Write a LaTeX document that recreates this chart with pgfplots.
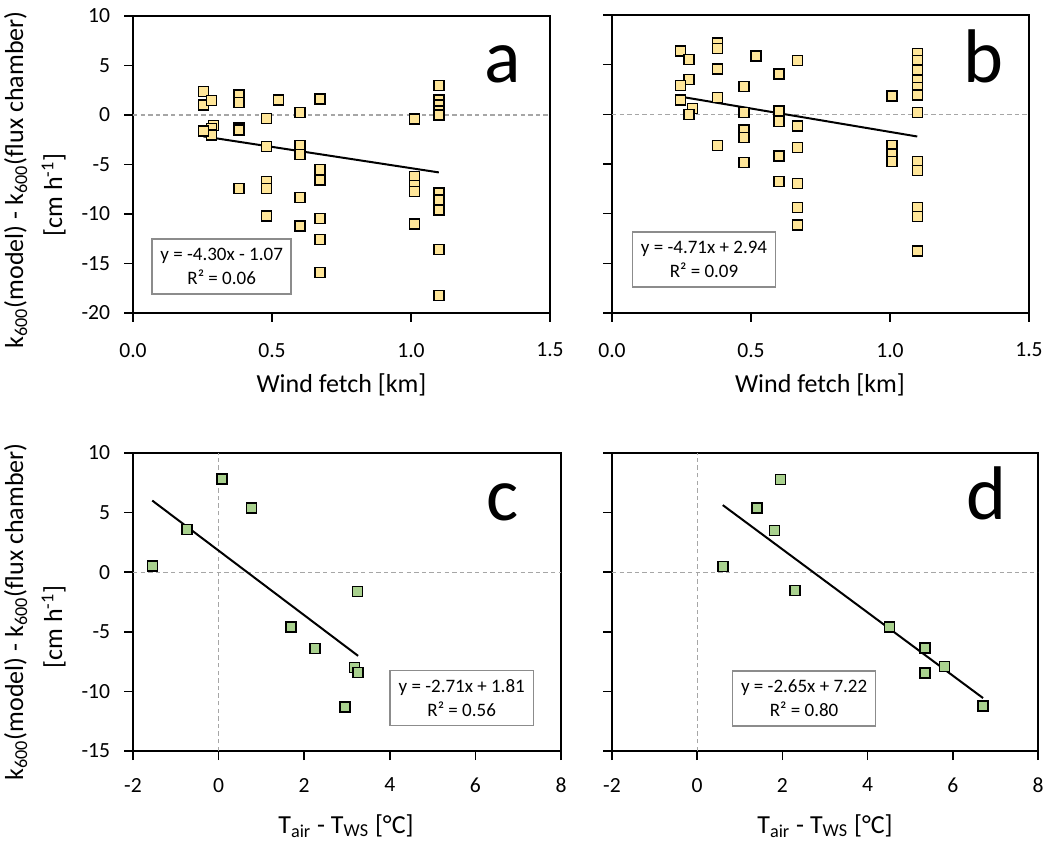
\documentclass[border=0pt]{standalone}
\usepackage{fontspec}
\setmainfont{Carlito}
\usepackage{pgfplots}
\pgfplotsset{compat=1.18}

\definecolor{fetchfill}{HTML}{FFE699}
\definecolor{tempfill}{HTML}{A9D18E}
\definecolor{zeroline}{HTML}{A6A6A6}
\definecolor{boxedge}{HTML}{8C8C8C}

\newcommand{\ticksize}{\fontsize{10.8}{13}\selectfont}
\newcommand{\labelsize}{\fontsize{13}{15}\selectfont}
\newcommand{\eqsize}{\fontsize{9.5}{12}\selectfont}
\newcommand{\lettersize}{\fontsize{38}{40}\selectfont}

\tikzset{
  eqbox/.style={draw=boxedge, line width=0.75pt, fill=white, align=center,
    font=\eqsize, minimum height=27.5pt, inner sep=2pt},
  zero/.style={zeroline, dash pattern=on 2.2pt off 1.6pt, line width=0.6pt},
  fit/.style={black, line width=1pt},
}

\pgfplotsset{
  panel/.style={
    scale only axis,
    anchor=south west,
    axis line style={black, line width=0.75pt},
    tick style={black, line width=0.75pt},
    tick align=outside,
    major tick length=4.5pt,
    xtick pos=bottom, ytick pos=left,
    minor tick num=0,
    tick label style={font=\ticksize},
    /pgf/number format/assume math mode=true,
    yticklabel style={xshift=-3.4pt},
  },
  fetchpanel/.style={
    panel,
    xmin=0, xmax=1.5, ymin=-20, ymax=10,
    xtick={0,0.5,1,1.5}, ytick={-20,-15,...,10},
    xticklabel style={yshift=-7pt,
      /pgf/number format/.cd, fixed, fixed zerofill, precision=1},
  },
  temppanel/.style={
    panel,
    xmin=-2, xmax=8, ymin=-15, ymax=10,
    xtick={-2,0,...,8}, ytick={-15,-10,...,10},
    xticklabel style={yshift=-5.5pt},
  },
  fetchpts/.style={only marks, mark=square*, mark size=2.5pt,
    mark options={fill=fetchfill, draw=black, line width=0.75pt}},
  temppts/.style={only marks, mark=square*, mark size=2.5pt,
    mark options={fill=tempfill, draw=black, line width=0.75pt}},
}

\begin{document}
\begin{tikzpicture}
\useasboundingbox (0,0) rectangle (523.5pt,420pt);

% (a) model minus chamber k600 against wind fetch
\begin{axis}[fetchpanel, at={(66.5pt,263.5pt)}, width=208.5pt, height=148.5pt]
\addplot[zero, no marks] coordinates {(0,0) (1.5,0)};
\addplot[fetchpts] coordinates {
(0.253,2.36) (0.253,1.01) (0.283,1.45) (0.289,-1.08) (0.283,-1.35) (0.283,-2.00)
(0.253,-1.62) (0.381,2.02) (0.381,1.24) (0.381,-1.30) (0.381,-1.50) (0.381,-7.40)
(0.481,-0.34) (0.481,-3.20) (0.481,-6.70) (0.481,-7.40) (0.481,-10.20)
(0.523,1.50) (0.600,0.27) (0.600,-3.10) (0.600,-3.97) (0.600,-8.35) (0.600,-11.20)
(0.673,1.60) (0.673,-5.50) (0.673,-6.56) (0.673,-10.47) (0.673,-12.56) (0.673,-15.90)
(1.012,-0.40) (1.012,-6.23) (1.012,-7.10) (1.012,-7.74) (1.012,-11.00)
(1.100,2.96) (1.100,1.50) (1.100,1.00) (1.100,0.40) (1.100,0.00)
(1.100,-7.90) (1.100,-8.60) (1.100,-9.60) (1.100,-13.60) (1.100,-18.25)
};
\addplot[fit, no marks] coordinates {(0.253,-2.158) (1.100,-5.800)};
\node[eqbox, minimum width=69.5pt] at (axis cs:0.319,-15.3) {y = -4.30x - 1.07\\R² = 0.06};
\node[anchor=base, font=\lettersize] at (axis cs:1.331,3.33) {a};
\end{axis}

% (b) corrected model
\begin{axis}[fetchpanel, at={(306pt,263.5pt)}, width=208.5pt, height=149pt, yticklabels={}]
\addplot[zero, no marks] coordinates {(0,0) (1.5,0)};
\addplot[fetchpts] coordinates {
(0.247,6.37) (0.277,5.53) (0.277,3.52) (0.247,2.88) (0.247,1.44) (0.289,0.60) (0.277,-0.04)
(0.379,7.20) (0.379,6.64) (0.379,4.56) (0.379,1.67) (0.379,-3.16)
(0.475,2.78) (0.475,0.16) (0.475,-1.58) (0.475,-2.35) (0.475,-4.87)
(0.518,5.87) (0.600,4.06) (0.600,0.33) (0.600,-0.74) (0.600,-4.20) (0.600,-6.78)
(0.667,5.40) (0.667,-1.18) (0.667,-3.36) (0.667,-6.95) (0.667,-9.37) (0.667,-11.15)
(1.007,1.84) (1.007,-3.16) (1.007,-4.00) (1.007,-4.77)
(1.098,6.14) (1.098,5.40) (1.098,4.46) (1.098,3.45) (1.098,2.71) (1.098,1.94) (1.098,0.16)
(1.098,-4.77) (1.098,-5.68) (1.098,-9.37) (1.098,-10.30) (1.098,-13.74)
};
\addplot[fit, no marks] coordinates {(0.247,1.777) (1.098,-2.232)};
\node[eqbox, minimum width=71.5pt] at (axis cs:0.331,-14.6) {y = -4.71x + 2.94\\R² = 0.09};
\node[anchor=base, font=\lettersize] at (axis cs:1.335,3.25) {b};
\end{axis}

% (c) against air-water temperature difference
\begin{axis}[temppanel, at={(66.5pt,44.5pt)}, width=214pt, height=149pt]
\addplot[zero, no marks] coordinates {(-2,0) (8,0)};
\addplot[zero, no marks] coordinates {(0,-15) (0,10)};
\addplot[temppts] coordinates {
(-1.55,0.50) (-0.74,3.60) (0.08,7.80) (0.77,5.37) (3.24,-1.62)
(1.69,-4.58) (2.25,-6.40) (3.17,-8.00) (3.26,-8.42) (2.95,-11.30)
};
\addplot[fit, no marks] coordinates {(-1.55,6.01) (3.26,-7.02)};
\node[eqbox, minimum width=71.7pt] at (axis cs:5.68,-10.57) {y = -2.71x + 1.81\\R² = 0.56};
\node[anchor=base, font=\lettersize] at (axis cs:6.64,4.36) {c};
\end{axis}

% (d)
\begin{axis}[temppanel, at={(306pt,44.5pt)}, width=213pt, height=149pt, yticklabels={}]
\addplot[zero, no marks] coordinates {(-2,0) (8,0)};
\addplot[zero, no marks] coordinates {(0,-15) (0,10)};
\addplot[temppts] coordinates {
(0.60,0.48) (1.40,5.37) (1.96,7.78) (1.81,3.50) (2.30,-1.54)
(4.51,-4.60) (5.35,-6.35) (5.35,-8.44) (5.81,-7.91) (6.71,-11.24)
};
\addplot[fit, no marks] coordinates {(0.60,5.63) (6.71,-10.56)};
\node[eqbox, minimum width=71.5pt] at (axis cs:2.51,-10.6) {y = -2.65x + 7.22\\R² = 0.80};
\node[anchor=base, font=\lettersize] at (axis cs:6.79,4.42) {d};
\end{axis}

% axis titles
\node[anchor=base, rotate=90, font=\labelsize] at (11.5pt,330pt)
  {k\textsubscript{600}(model) - k\textsubscript{600}(flux chamber)};
\node[anchor=base, rotate=90, font=\labelsize] at (31pt,322.5pt)
  {[cm h\textsuperscript{-1}]};
\node[anchor=base, rotate=90, font=\labelsize] at (11.5pt,114pt)
  {k\textsubscript{600}(model) - k\textsubscript{600}(flux chamber)};
\node[anchor=base, rotate=90, font=\labelsize] at (31pt,106.5pt)
  {[cm h\textsuperscript{-1}]};
\node[anchor=base, font=\labelsize] at (170.75pt,223.5pt) {Wind fetch [km]};
\node[anchor=base, font=\labelsize] at (410pt,223.5pt) {Wind fetch [km]};
\node[anchor=base, font=\labelsize] at (173pt,3.5pt) {T\textsubscript{air} - T\textsubscript{WS} [°C]};
\node[anchor=base, font=\labelsize] at (412.5pt,3.5pt) {T\textsubscript{air} - T\textsubscript{WS} [°C]};
\end{tikzpicture}
\end{document}
